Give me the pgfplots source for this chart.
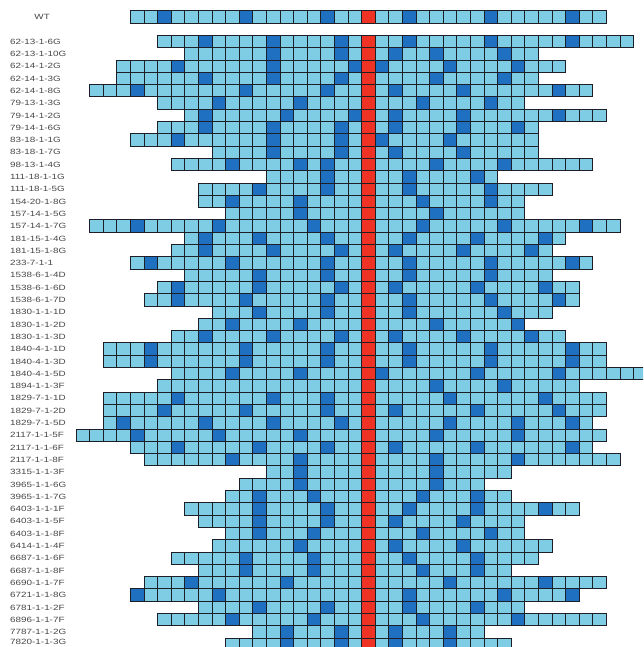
\documentclass[border=0pt]{standalone}
\usepackage{pgfplots}
\pgfplotsset{compat=1.18}
\usepackage{pgfplotstable}
\usepackage{fontspec}
\setmainfont{Liberation Sans}
\newfontfamily\labfont[FakeStretch=1.3]{Liberation Sans}
\definecolor{lightc}{RGB}{127,204,229}
\definecolor{darkc}{RGB}{31,112,193}
\definecolor{redc}{RGB}{238,50,36}
\definecolor{edgec}{RGB}{28,32,38}
\definecolor{labc}{RGB}{70,70,70}

\pgfdeclareplotmark{cell}{%
  \pgfpathrectangle{\pgfqpoint{-6.8pt}{-6.15pt}}{\pgfqpoint{13.6pt}{12.3pt}}%
  \pgfusepathqfillstroke}
\pgfdeclareplotmark{rowcells}{%
  \pgfmathtruncatemacro\nlast{\pgfplotspointmeta-1}%
  \foreach \k in {0,...,\nlast}{%
    \pgfmathsetlengthmacro\xx{\k*13.6pt-6.8pt}%
    \pgfpathrectangle{\pgfpoint{\xx}{-6.15pt}}{\pgfqpoint{13.6pt}{12.3pt}}%
    \pgfusepathqfillstroke}}

% row extents: first cell s, last cell e, number of cells n, row r (red column = 0)
\pgfplotstableread{
s e n r
-17 17 35 0
-15 19 35 2
-13 12 26 3
-18 14 33 4
-18 12 31 5
-20 16 37 6
-15 11 27 7
-13 17 31 8
-15 12 28 9
-17 12 30 10
-11 12 24 11
-14 16 31 12
-7 9 17 13
-12 13 26 14
-12 11 24 15
-10 11 22 16
-20 18 39 17
-13 14 28 18
-14 13 28 19
-17 16 34 20
-13 13 27 21
-15 15 31 22
-16 15 32 23
-11 13 25 24
-12 11 24 25
-14 14 29 26
-19 17 37 27
-19 17 37 28
-14 20 35 29
-15 15 31 30
-19 17 37 31
-19 17 37 32
-19 16 36 33
-21 17 39 34
-17 16 34 35
-16 18 35 36
-7 10 18 37
-9 8 18 38
-10 10 21 39
-13 15 29 40
-12 11 24 41
-10 11 22 42
-11 13 25 43
-14 12 27 44
-12 10 23 45
-16 17 34 46
-17 15 33 47
-12 11 24 48
-15 17 33 49
-8 8 17 50
-10 10 21 51
}\rows

\newcommand\lab[2]{\node[anchor=west, inner sep=0pt, text=labc, font=\labfont\fontsize{7.6}{8}\selectfont] at (axis cs:-26.36,#1) {#2};}

\begin{document}
\begin{tikzpicture}
\begin{axis}[
  x=13.6pt, y=12.3pt, y dir=reverse,
  xmin=-27.096, xmax=20.184, ymin=-1.382, ymax=51.22,
  axis line style={draw=none}, ticks=none,
  clip marker paths=true,
]
\addplot[scatter, only marks, mark=rowcells,
  point meta=explicit symbolic,
  scatter/@pre marker code/.code={\scope[draw=edgec, fill=lightc, line width=0.95pt]},
  scatter/@post marker code/.code={\endscope},
] table[x=s, y=r, meta=n] {\rows};

\addplot[only marks, mark=cell, mark options={draw=edgec, fill=darkc, line width=0.95pt}] coordinates {
(-15,0)(-9,0)(-3,0)(3,0)(9,0)(15,0)
(-12,2)(-7,2)(-2,2)(3,2)(9,2)(15,2)
(-7,3)(-2,3)(2,3)(5,3)(10,3)
(-14,4)(-7,4)(-1,4)(1,4)(6,4)(11,4)
(-12,5)(-7,5)(-2,5)(5,5)(10,5)
(-17,6)(-9,6)(-3,6)(2,6)(7,6)(14,6)
(-11,7)(-5,7)(4,7)(9,7)
(-12,8)(-6,8)(-1,8)(2,8)(7,8)(14,8)
(-12,9)(-7,9)(-2,9)(2,9)(7,9)(11,9)
(-14,10)(-7,10)(-2,10)(1,10)(6,10)
(-7,11)(-2,11)(2,11)(7,11)
(-10,12)(-5,12)(-3,12)(5,12)(10,12)
(-3,13)(3,13)(8,13)
(-8,14)(-3,14)(3,14)(9,14)
(-10,15)(-5,15)(4,15)(9,15)
(-5,16)(5,16)
(-17,17)(-11,17)(-4,17)(4,17)(10,17)(16,17)
(-12,18)(-8,18)(-3,18)(3,18)(8,18)(13,18)
(-12,19)(-7,19)(-2,19)(2,19)(7,19)(12,19)
(-16,20)(-10,20)(-3,20)(3,20)(9,20)(15,20)
(-8,21)(-3,21)(3,21)(9,21)
(-14,22)(-8,22)(-2,22)(2,22)(8,22)(13,22)
(-14,23)(-9,23)(-3,23)(3,23)(9,23)(14,23)
(-8,24)(-3,24)(3,24)(10,24)
(-10,25)(-5,25)(5,25)(11,25)
(-12,26)(-7,26)(-2,26)(2,26)(7,26)(12,26)
(-16,27)(-9,27)(-3,27)(3,27)(9,27)(15,27)
(-16,28)(-9,28)(-3,28)(3,28)(9,28)(15,28)
(-10,29)(-5,29)(1,29)(8,29)(14,29)
(5,30)(10,30)
(-14,31)(-7,31)(-3,31)(6,31)(13,31)
(-15,32)(-9,32)(-3,32)(2,32)(8,32)(14,32)
(-18,33)(-12,33)(-7,33)(-2,33)(6,33)(11,33)(15,33)
(-17,34)(-11,34)(-5,34)(5,34)(11,34)
(-14,35)(-8,35)(-3,35)(2,35)(8,35)(15,35)
(-10,36)(-5,36)(5,36)(11,36)
(-5,37)(5,37)
(-5,38)(5,38)
(-8,39)(-4,39)(4,39)(8,39)
(-8,40)(-3,40)(3,40)(8,40)(13,40)
(-8,41)(-3,41)(2,41)(7,41)
(-8,42)(-4,42)(4,42)(9,42)
(-5,43)(2,43)(7,43)
(-9,44)(-4,44)(3,44)(8,44)
(-9,45)(-4,45)(4,45)(8,45)
(-13,46)(-6,46)(6,46)(13,46)
(-17,47)(-11,47)(3,47)(10,47)(15,47)
(-8,48)(-3,48)(3,48)(8,48)
(-10,49)(-4,49)(4,49)(11,49)
(-6,50)(-2,50)(2,50)(6,50)
(-6,51)(-2,51)(2,51)(6,51)
};

\addplot[only marks, mark=cell, mark options={draw=edgec, fill=redc, line width=0.95pt}] coordinates {
(0,0)(0,2)(0,3)(0,4)(0,5)(0,6)(0,7)(0,8)(0,9)(0,10)(0,11)(0,12)(0,13)(0,14)(0,15)(0,16)(0,17)(0,18)(0,19)(0,20)
(0,21)(0,22)(0,23)(0,24)(0,25)(0,26)(0,27)(0,28)(0,29)(0,30)(0,31)(0,32)(0,33)(0,34)(0,35)(0,36)(0,37)(0,38)(0,39)(0,40)
(0,41)(0,42)(0,43)(0,44)(0,45)(0,46)(0,47)(0,48)(0,49)(0,50)(0,51)
};

\node[anchor=center, inner sep=0pt, text=labc, font=\labfont\fontsize{7.6}{8}\selectfont] at (axis cs:-24.0,0) {WT};
\lab{2}{62-13-1-6G}
\lab{3}{62-13-1-10G}
\lab{4}{62-14-1-2G}
\lab{5}{62-14-1-3G}
\lab{6}{62-14-1-8G}
\lab{7}{79-13-1-3G}
\lab{8}{79-14-1-2G}
\lab{9}{79-14-1-6G}
\lab{10}{83-18-1-1G}
\lab{11}{83-18-1-7G}
\lab{12}{98-13-1-4G}
\lab{13}{111-18-1-1G}
\lab{14}{111-18-1-5G}
\lab{15}{154-20-1-8G}
\lab{16}{157-14-1-5G}
\lab{17}{157-14-1-7G}
\lab{18}{181-15-1-4G}
\lab{19}{181-15-1-8G}
\lab{20}{233-7-1-1}
\lab{21}{1538-6-1-4D}
\lab{22}{1538-6-1-6D}
\lab{23}{1538-6-1-7D}
\lab{24}{1830-1-1-1D}
\lab{25}{1830-1-1-2D}
\lab{26}{1830-1-1-3D}
\lab{27}{1840-4-1-1D}
\lab{28}{1840-4-1-3D}
\lab{29}{1840-4-1-5D}
\lab{30}{1894-1-1-3F}
\lab{31}{1829-7-1-1D}
\lab{32}{1829-7-1-2D}
\lab{33}{1829-7-1-5D}
\lab{34}{2117-1-1-5F}
\lab{35}{2117-1-1-6F}
\lab{36}{2117-1-1-8F}
\lab{37}{3315-1-1-3F}
\lab{38}{3965-1-1-6G}
\lab{39}{3965-1-1-7G}
\lab{40}{6403-1-1-1F}
\lab{41}{6403-1-1-5F}
\lab{42}{6403-1-1-8F}
\lab{43}{6414-1-1-4F}
\lab{44}{6687-1-1-6F}
\lab{45}{6687-1-1-8F}
\lab{46}{6690-1-1-7F}
\lab{47}{6721-1-1-8G}
\lab{48}{6781-1-1-2F}
\lab{49}{6896-1-1-7F}
\lab{50}{7787-1-1-2G}
\lab{50.78}{7820-1-1-3G}
\end{axis}
\pgfresetboundingbox
\path[use as bounding box] (current axis.south west) rectangle (current axis.north east);
\end{tikzpicture}
\end{document}
